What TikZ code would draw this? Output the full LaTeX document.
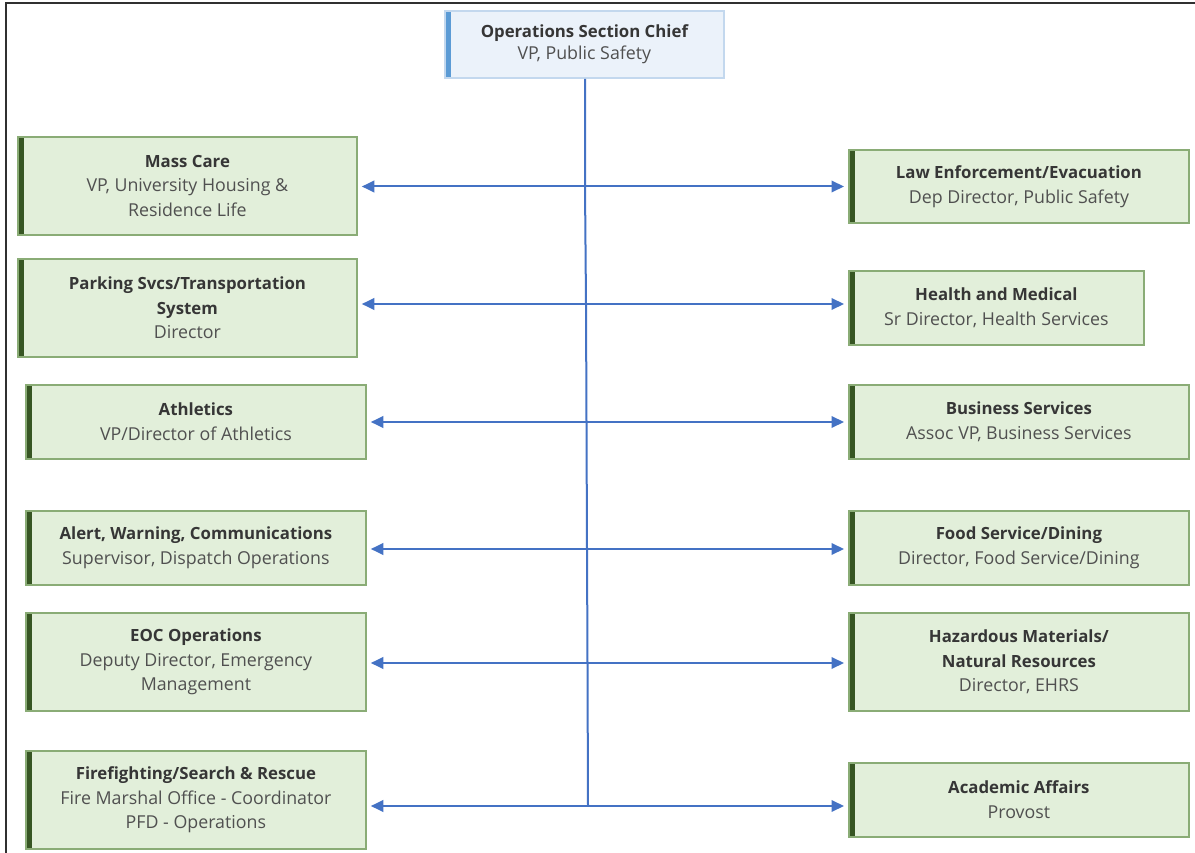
\documentclass[tikz,border=0pt]{standalone}
\usepackage{fontspec}
\setmainfont{Open Sans}
\usetikzlibrary{arrows.meta}

\definecolor{gfill}{HTML}{E2EFDA}
\definecolor{gborder}{HTML}{8AAC76}
\definecolor{gaccent}{HTML}{375623}
\definecolor{bfill}{HTML}{EBF2FA}
\definecolor{bborder}{HTML}{C3D8EE}
\definecolor{baccent}{HTML}{5B9BD5}
\definecolor{linkblue}{HTML}{4472C4}
\definecolor{headtxt}{HTML}{363636}
\definecolor{subtxt}{HTML}{505050}
\definecolor{framecol}{HTML}{303030}

\newcommand\boxhead[1]{{\color{headtxt}\fontsize{16.8}{24.8}\selectfont\bfseries #1}}

\tikzset{
  orgbox/.style={draw=gborder, line width=1.8pt, fill=gfill, anchor=north west,
    align=center, inner sep=0pt, text=subtxt,
    font=\fontsize{17.8}{24.8}\selectfont,
    path picture={\fill[gaccent] (path picture bounding box.north west)
      rectangle ([xshift=6pt]path picture bounding box.south west);}},
  chiefbox/.style={orgbox, draw=bborder, fill=bfill,
    path picture={\fill[baccent] (path picture bounding box.north west)
      rectangle ([xshift=6pt]path picture bounding box.south west);}},
  link/.style={draw=linkblue, line width=2pt},
  arr/.style={link, -{Triangle[length=12.5pt,width=11.5pt]}, shorten >=4pt},
}

\begin{document}
\begin{tikzpicture}[x=1pt,y=-1pt]
\useasboundingbox (0,0) rectangle (1195,853);
\fill[white] (0,0) rectangle (1195,853);

% outer frame (top and left edges)
\draw[framecol, line width=2pt] (6,853) -- (6,3.5) -- (1195,3.5);

% chief
\node[chiefbox, minimum width=279, minimum height=67] (chief) at (444,10)
  {\boxhead{Operations Section Chief}\\[-3pt]VP, Public Safety};

% left column
\node[orgbox, minimum width=339, minimum height=98] (mass) at (17,136)
  {\boxhead{Mass Care}\\VP, University Housing \&\\Residence Life};
\node[orgbox, minimum width=339, minimum height=98] (park) at (17,258)
  {\boxhead{Parking Svcs/Transportation}\\\boxhead{System}\\Director};
\node[orgbox, minimum width=340, minimum height=74] (ath) at (25,384)
  {\boxhead{Athletics}\\VP/Director of Athletics};
\node[orgbox, minimum width=340, minimum height=74] (alert) at (25,510)
  {\boxhead{Alert, Warning, Communications}\\Supervisor, Dispatch Operations};
\node[orgbox, minimum width=340, minimum height=98] (eoc) at (25,612)
  {\boxhead{EOC Operations}\\Deputy Director, Emergency\\Management};
\node[orgbox, minimum width=340, minimum height=98] (fire) at (25,750)
  {\boxhead{Firefighting/Search \& Rescue}\\Fire Marshal Office - Coordinator\\PFD - Operations};

% right column
\node[orgbox, minimum width=340, minimum height=73] (law) at (848,149)
  {\boxhead{Law Enforcement/Evacuation}\\Dep Director, Public Safety};
\node[orgbox, minimum width=295, minimum height=74] (health) at (848,270)
  {\boxhead{Health and Medical}\\Sr Director, Health Services};
\node[orgbox, minimum width=340, minimum height=74] (bus) at (848,384)
  {\boxhead{Business Services}\\Assoc VP, Business Services};
\node[orgbox, minimum width=340, minimum height=74] (food) at (848,510)
  {\boxhead{Food Service/Dining}\\Director, Food Service/Dining};
\node[orgbox, minimum width=340, minimum height=98] (haz) at (848,612)
  {\boxhead{Hazardous Materials/}\\\boxhead{Natural Resources}\\Director, EHRS};
\node[orgbox, minimum width=340, minimum height=74] (acad) at (848,762)
  {\boxhead{Academic Affairs}\\Provost};

% junctions on the trunk
\coordinate (j1) at (585,186.5);
\coordinate (j2) at (586,304);
\coordinate (j3) at (586.5,422);
\coordinate (j4) at (587,549);
\coordinate (j5) at (587.5,663);
\coordinate (j6) at (588,806);

% trunk
\draw[link] (chief.south -| j1) -- (j1) -- (j2) -- (j3) -- (j4) -- (j5) -- (j6);

% branches
\foreach \j/\l/\r in {j1/mass/law, j2/park/health, j3/ath/bus,
                      j4/alert/food, j5/eoc/haz, j6/fire/acad} {
  \draw[arr] (\j) -- (\l.east |- \j);
  \draw[arr] (\j) -- (\r.west |- \j);
}
\end{tikzpicture}
\end{document}
